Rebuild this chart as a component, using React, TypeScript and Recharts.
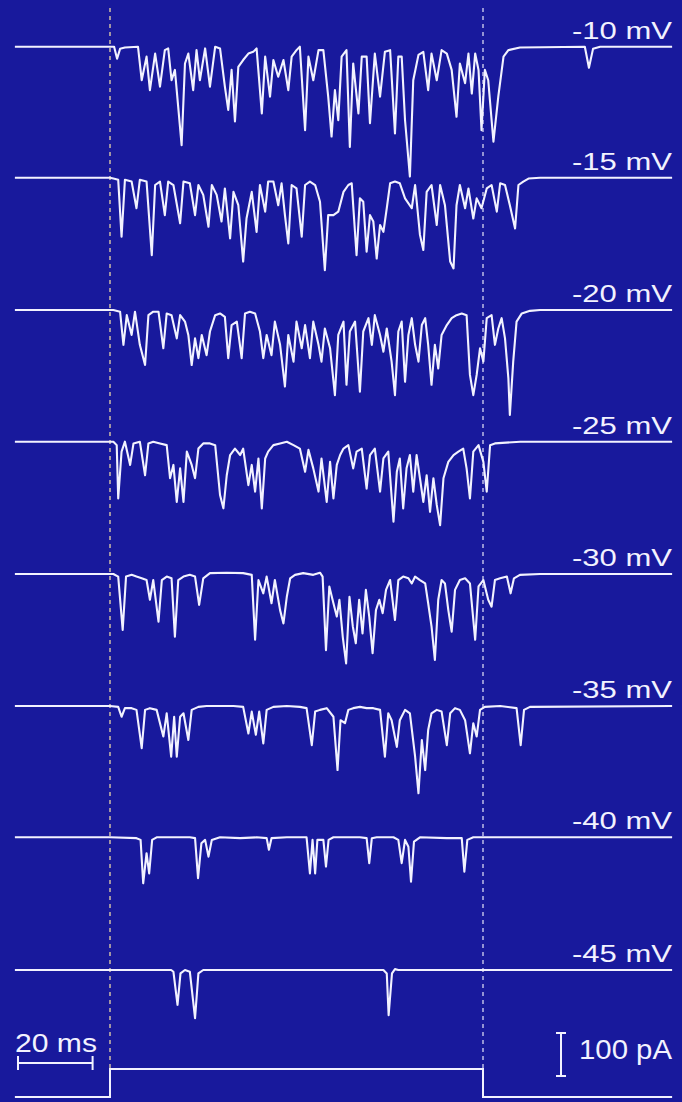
import { ComposedChart, Line, XAxis, YAxis, ReferenceLine } from 'recharts';

// Single-channel currents, one sweep per test potential.
// Each point is [time (ms from step onset), current (pA, inward negative)].
const trace10: [number, number][] = [
    [-25.5, 0], [0, 0], [1.1, 0], [1.9, -28], [2.7, -5], [4.0, -2], [7.5, 0],
    [8.5, -78], [9.8, -23], [10.7, -101], [12.1, -16], [13.4, -93], [14.7, -8], [15.6, -4], [16.5, -78],
    [17.4, -54], [19.2, -229], [20.1, -39], [21.0, -16], [22.3, -101], [23.2, -8], [24.1, -78], [25.5, -4],
    [26.8, -93], [28.2, 0], [29.5, -4], [30.8, -93], [31.7, -147], [32.6, -54], [33.5, -174], [34.4, -47],
    [35.7, -31], [37.1, -16], [38.4, -12], [39.3, -4], [40.7, -155], [41.6, -23], [42.9, -116], [43.8, -31],
    [45.1, -70], [46.5, -31], [47.8, -101], [48.7, -23], [50.0, -8], [50.9, 0], [52.3, -194], [53.2, -23],
    [54.5, -78], [55.9, -8], [57.2, -8], [58.5, -116], [59.4, -209], [60.3, -101], [61.2, -171], [62.1, -23],
    [63.4, -8], [64.3, -233], [65.2, -39], [66.6, -155], [67.5, -23], [68.8, -23], [69.7, -178], [71.0, -16],
    [72.4, -116], [73.7, -12], [75.1, -8], [76.4, -202], [77.3, -23], [78.2, -23], [79.1, -171], [80.4, -302],
    [81.3, -78], [82.7, -19], [84.0, -12], [85.3, -101], [86.2, -16], [87.6, -78], [88.9, -8], [90.3, -16],
    [91.6, -54], [92.9, -163], [93.8, -39], [95.2, -85], [96.1, -16], [97.0, -109], [97.9, -16], [98.8, -54],
    [99.6, -194], [100.5, -54], [101.4, -78], [102.8, -221], [104.1, -116], [105.5, -23], [106.8, -8],
    [109.9, -2], [127.3, 0], [128.4, -49], [129.5, -5], [131.4, 0], [150.7, 0],
];

const trace15: [number, number][] = [
    [-25.5, 0], [0, 0], [0.9, -2], [2.2, -5], [3.1, -137], [4.0, -5], [5.8, -9], [7.1, -71], [8.0, -5],
    [9.8, -9], [11.2, -180], [12.1, -17], [13.4, -9], [14.7, -87], [15.6, -9], [17.0, -17], [18.8, -106],
    [19.7, -9], [21.4, -13], [22.8, -87], [23.7, -17], [25.0, -40], [26.4, -114], [27.3, -17], [28.6, -40],
    [29.9, -102], [30.8, -25], [32.2, -141], [33.1, -33], [34.4, -64], [35.7, -195], [36.6, -95], [38.0, -33],
    [39.3, -126], [40.2, -17], [41.6, -79], [42.4, -9], [43.8, -9], [45.1, -64], [46.0, -13], [46.9, -87],
    [47.8, -153], [48.7, -17], [50.0, -25], [51.4, -137], [52.3, -17], [53.6, -9], [55.0, -17], [56.3, -56],
    [57.6, -215], [58.5, -87], [59.9, -87], [61.2, -79], [62.6, -33], [63.9, -17], [64.8, -13], [66.1, -180],
    [67.0, -48], [67.9, -56], [68.8, -172], [69.7, -87], [70.6, -102], [71.5, -188], [72.4, -110], [73.3, -126],
    [74.2, -71], [75.1, -13], [76.4, -9], [77.7, -13], [79.1, -48], [80.9, -71], [81.8, -17], [83.1, -133],
    [84.0, -168], [84.9, -33], [86.2, -17], [87.6, -110], [88.5, -17], [89.8, -64], [91.2, -195], [92.1, -211],
    [92.9, -64], [93.8, -17], [95.2, -71], [96.1, -25], [97.4, -95], [98.3, -48], [99.6, -71], [101.0, -25],
    [102.3, -17], [103.7, -79], [104.6, -13], [105.9, -17], [107.2, -64], [108.6, -118], [109.5, -17],
    [110.8, -9], [112.2, -2], [115.3, 0], [150.7, 0],
];

const trace20: [number, number][] = [
    [-25.5, 0], [0, 0], [0.9, 0], [2.7, -4], [3.6, -81], [4.5, -12], [5.8, -58], [6.7, -4], [8.0, -81],
    [9.4, -128], [10.3, -12], [11.6, -4], [13.0, -4], [14.3, -89], [15.2, -8], [16.5, -12], [17.9, -66],
    [18.8, -12], [20.1, -27], [21.0, -58], [21.9, -128], [22.8, -66], [23.7, -112], [24.6, -58], [25.9, -105],
    [26.8, -50], [28.2, -12], [29.5, -8], [30.8, -16], [31.7, -112], [32.6, -35], [34.0, -27], [35.3, -112],
    [36.2, -8], [37.5, -4], [38.9, -8], [40.2, -50], [41.1, -112], [42.0, -58], [43.3, -105], [44.2, -27],
    [45.6, -81], [46.9, -178], [47.8, -58], [49.2, -120], [50.0, -27], [51.4, -89], [52.3, -35], [53.6, -112],
    [54.5, -27], [55.9, -81], [56.7, -120], [57.6, -43], [59.0, -89], [60.3, -198], [61.2, -58], [62.6, -27],
    [63.4, -174], [64.3, -50], [65.7, -27], [67.0, -190], [67.9, -50], [69.3, -19], [70.2, -81], [71.0, -12],
    [72.4, -58], [73.3, -97], [74.2, -43], [75.5, -120], [76.4, -198], [77.3, -50], [78.2, -27], [79.1, -167],
    [80.0, -58], [80.9, -19], [81.8, -81], [82.7, -120], [83.6, -35], [84.5, -19], [85.3, -81], [86.2, -174],
    [87.1, -81], [88.0, -136], [88.9, -58], [90.3, -35], [91.6, -19], [92.9, -12], [94.3, -8], [95.6, -12],
    [96.5, -151], [97.4, -198], [98.3, -151], [99.2, -89], [100.1, -120], [101.0, -19], [102.3, -12],
    [103.2, -81], [104.1, -43], [105.0, -19], [105.9, -66], [106.8, -159], [107.2, -244], [108.1, -120],
    [109.0, -27], [110.4, -8], [112.6, -2], [115.3, 0], [150.7, 0],
];

const trace25: [number, number][] = [
    [-25.5, 0], [0, 0], [0.9, 0], [1.8, -8], [2.2, -132], [3.1, -23], [4.0, 0], [5.4, -54], [6.3, -4],
    [8.0, 0], [9.4, -78], [10.3, -4], [11.6, 0], [13.4, -4], [15.2, -8], [16.1, -85], [17.0, -54], [17.9, -140],
    [18.8, -62], [19.7, -140], [20.6, -23], [21.9, -54], [22.8, -85], [23.7, -16], [25.0, -4], [26.8, -4],
    [28.2, -8], [29.5, -124], [30.4, -155], [31.3, -78], [32.2, -31], [33.5, -16], [34.9, -31], [35.7, -16],
    [37.1, -101], [38.0, -54], [38.9, -116], [39.8, -39], [40.7, -155], [41.6, -39], [42.4, -23], [43.8, -8],
    [45.6, -4], [47.4, 0], [49.2, -8], [50.9, -16], [52.3, -70], [53.2, -19], [54.5, -62], [55.9, -116],
    [56.7, -39], [58.1, -140], [59.0, -47], [59.9, -132], [60.8, -54], [61.7, -31], [62.6, -16], [63.9, -8],
    [65.2, -62], [66.1, -23], [67.5, -16], [68.8, -109], [69.7, -31], [71.0, -16], [72.4, -116], [73.3, -39],
    [74.6, -23], [76.0, -186], [76.9, -70], [77.7, -39], [78.6, -155], [79.5, -62], [80.4, -31], [81.3, -116],
    [82.2, -31], [83.1, -85], [84.0, -140], [84.9, -78], [85.8, -163], [86.7, -85], [87.6, -147], [88.5, -194],
    [89.4, -85], [90.7, -47], [92.1, -31], [93.4, -23], [94.7, -16], [95.6, -62], [96.5, -132], [97.4, -23],
    [98.8, -8], [100.1, -47], [101.0, -116], [101.9, -8], [103.2, -4], [110.0, 0], [150.7, 0],
];

const trace30: [number, number][] = [
    [-25.5, 0], [0, 0], [0.9, 0], [2.2, -6], [3.4, -130], [4.3, -6], [5.8, -2], [7.1, -6], [8.5, -10],
    [9.8, -14], [10.7, -60], [11.6, -14], [13.0, -111], [13.9, -14], [15.2, -6], [16.5, -10], [17.4, -146],
    [18.3, -14], [19.7, -6], [21.4, -2], [22.8, -6], [23.9, -72], [25.0, -10], [26.8, 2], [31.3, 3], [35.7, 2],
    [38.0, -2], [38.9, -153], [39.8, -14], [41.1, -45], [42.0, -6], [43.3, -68], [44.2, -14], [45.6, -84],
    [46.5, -115], [47.4, -53], [48.3, -10], [49.6, -2], [51.8, 2], [54.5, -2], [56.3, 3], [57.0, -6],
    [57.9, -177], [58.8, -29], [59.9, -68], [60.8, -99], [61.5, -60], [62.4, -146], [63.3, -208], [64.2, -53],
    [65.1, -122], [65.9, -161], [66.8, -60], [67.7, -138], [68.6, -37], [69.5, -99], [70.4, -184], [71.3, -84],
    [72.2, -60], [73.1, -91], [74.0, -37], [75.1, -14], [76.4, -107], [77.3, -14], [78.6, -6], [80.0, -10],
    [80.9, -22], [81.8, -6], [83.1, -14], [84.5, -22], [85.3, -68], [86.2, -122], [87.1, -200], [88.0, -60],
    [88.9, -14], [89.8, -22], [90.7, -84], [91.6, -134], [92.5, -37], [93.8, -14], [95.2, -10], [96.5, -22],
    [97.9, -153], [98.8, -29], [100.1, -14], [101.4, -60], [102.3, -76], [103.2, -14], [104.6, -10],
    [106.4, -6], [107.4, -45], [108.3, -10], [109.9, -2], [115.3, 0], [150.7, 0],
];

const trace35: [number, number][] = [
    [-25.5, 0], [0, 0], [2.2, -2], [3.1, -25], [4.0, -5], [5.8, -5], [7.1, -9], [8.5, -98], [9.4, -9],
    [10.7, -5], [12.5, -9], [14.3, -71], [15.2, -17], [16.4, -118], [17.2, -25], [17.9, -118], [18.8, -25],
    [19.7, -17], [21.0, -79], [21.9, -9], [23.7, -2], [25.9, 0], [33.1, 0], [35.7, -2], [37.1, -64],
    [38.0, -13], [39.1, -67], [40.0, -13], [41.1, -87], [42.0, -9], [43.8, -2], [47.4, 0], [50.9, -2],
    [52.7, -5], [54.1, -91], [55.0, -13], [56.3, -9], [58.1, -5], [59.9, -25], [61.0, -149], [61.8, -33],
    [63.0, -40], [63.9, -9], [65.2, -5], [67.0, -2], [68.8, -5], [70.6, -5], [72.4, -9], [73.7, -118],
    [74.6, -17], [75.5, -33], [76.9, -95], [77.7, -33], [79.1, -9], [80.4, -17], [81.8, -118], [82.7, -203],
    [83.6, -79], [84.5, -149], [85.3, -56], [86.2, -17], [87.6, -9], [88.9, -13], [90.3, -91], [91.2, -17],
    [92.5, -5], [93.8, -9], [95.2, -33], [96.5, -110], [97.4, -40], [98.3, -71], [99.2, -9], [100.5, -2],
    [104.6, 0], [109.0, -5], [110.1, -91], [111.0, -9], [112.6, -2], [150.7, 0],
];

const trace40: [number, number][] = [
    [-25.5, 0], [0, 0], [7.1, -2], [8.2, -6], [8.9, -107], [9.8, -37], [10.5, -84], [11.3, -6], [12.5, 0],
    [21.4, 0], [22.8, -2], [23.6, -95], [24.5, -14], [25.5, -6], [26.4, -45], [27.3, -6], [29.5, 0],
    [34.9, -2], [39.3, 0], [42.0, -2], [42.6, -29], [43.3, -2], [47.4, 0], [52.7, 0], [53.6, -84],
    [54.3, -6], [55.0, -84], [55.6, -6], [57.2, -6], [57.9, -68], [58.6, -6], [59.9, 0], [67.0, 0],
    [68.8, -2], [69.5, -60], [70.2, -2], [71.5, 0], [76.0, 0], [77.3, -6], [78.2, -60], [79.1, -6],
    [80.0, -22], [80.7, -103], [81.5, -10], [83.1, 0], [90.3, -2], [94.3, -2], [95.0, -80], [95.8, -6],
    [97.4, 0], [150.7, 0],
];

const trace45: [number, number][] = [
    [-25.5, 0], [0, 0], [16.4, 0], [17.0, -4], [18.1, -81], [18.9, -8], [20.1, 0], [21.4, -4], [22.8, -112],
    [23.7, -8], [25.0, 0], [73.3, 0], [74.2, -8], [74.7, -105], [75.6, -8], [76.4, 2], [77.3, 0], [150.7, 0],
];

const VOLTAGES = ['-10 mV', '-15 mV', '-20 mV', '-25 mV', '-30 mV', '-35 mV', '-40 mV', '-45 mV'];
const TRACES = [trace10, trace15, trace20, trace25, trace30, trace35, trace40, trace45];

// voltage protocol: 0 = holding, 1 = test pulse
const STEP: [number, number][] = [[-25.5, 0], [0, 1], [100, 0], [150.7, 0]];
const PULSE_MS = 100;
const SCALE_MS = 20;
const SCALE_PA = 100;

// layout
const W = 682;
const H = 1102;
const PX_PER_MS = 3.73;
const ONSET_X = 110;
const PX_PER_PA = 0.43;
const BASELINE_Y = [46.7, 177.7, 310, 441.7, 574, 706, 837.3, 970];
const STEP_LOW_Y = 1097;
const STEP_HIGH_Y = 1069;
const BG = '#18199c';
const INK = '#f2f2ff';
const FONT = "'Liberation Sans', Arial, Helvetica, sans-serif";

const xDomain = [-ONSET_X / PX_PER_MS, (W - ONSET_X) / PX_PER_MS];
const paDomain = (y0: number) => [-(H - y0) / PX_PER_PA, y0 / PX_PER_PA];
const stepUnit = STEP_LOW_Y - STEP_HIGH_Y;
const msAt = (x: number) => (x - ONSET_X) / PX_PER_MS;

const traceData = TRACES.map((tr) => tr.map(([t, i]) => ({ t, i })));
const stepData = STEP.map(([t, v]) => ({ t, v }));

const msBar = { t0: msAt(18), y: 1063 };
const paBar = { t: msAt(561), y0: 1076 };

function App() {
    const serif = 5 / PX_PER_MS;
    return (
        <div style={{ position: 'absolute', left: 0, top: 0, width: W, height: H, background: BG }}>
            <ComposedChart width={W} height={H} margin={{ top: 0, right: 0, bottom: 0, left: 0 }}>
                <XAxis type="number" dataKey="t" domain={xDomain} allowDataOverflow hide />
                {BASELINE_Y.map((y0, k) => (
                    <YAxis key={k} yAxisId={`tr${k}`} type="number" domain={paDomain(y0)} allowDataOverflow hide />
                ))}
                <YAxis yAxisId="step" type="number" domain={[-(H - STEP_LOW_Y) / stepUnit, STEP_LOW_Y / stepUnit]} allowDataOverflow hide />
                <YAxis yAxisId="page" type="number" domain={[0, H]} reversed allowDataOverflow hide />
                <YAxis yAxisId="scale" type="number" domain={paDomain(paBar.y0)} allowDataOverflow hide />

                <ReferenceLine yAxisId="page" segment={[{ x: 0, y: 8 }, { x: 0, y: STEP_HIGH_Y }]}
                    stroke="#dccaa6" strokeWidth={1.4} strokeDasharray="4 4" />
                <ReferenceLine yAxisId="page" segment={[{ x: PULSE_MS, y: 8 }, { x: PULSE_MS, y: STEP_HIGH_Y }]}
                    stroke="#c8c8ec" strokeWidth={1.4} strokeDasharray="4 4" />

                {traceData.map((d, k) => (
                    <Line key={k} yAxisId={`tr${k}`} data={d} dataKey="i" type="linear" stroke={INK}
                        strokeWidth={2.1} strokeLinejoin="round" dot={false} activeDot={false} isAnimationActive={false} />
                ))}
                <Line yAxisId="step" data={stepData} dataKey="v" type="stepAfter" stroke={INK}
                    strokeWidth={2} dot={false} activeDot={false} isAnimationActive={false} />

                {/* 20 ms scale bar */}
                <ReferenceLine yAxisId="page" segment={[{ x: msBar.t0, y: msBar.y }, { x: msBar.t0 + SCALE_MS, y: msBar.y }]} stroke={INK} strokeWidth={2} />
                <ReferenceLine yAxisId="page" segment={[{ x: msBar.t0, y: msBar.y - 7 }, { x: msBar.t0, y: msBar.y + 7 }]} stroke={INK} strokeWidth={2} />
                <ReferenceLine yAxisId="page" segment={[{ x: msBar.t0 + SCALE_MS, y: msBar.y - 7 }, { x: msBar.t0 + SCALE_MS, y: msBar.y + 7 }]} stroke={INK} strokeWidth={2} />
                {/* 100 pA scale bar */}
                <ReferenceLine yAxisId="scale" segment={[{ x: paBar.t, y: 0 }, { x: paBar.t, y: SCALE_PA }]} stroke={INK} strokeWidth={2} />
                <ReferenceLine yAxisId="scale" segment={[{ x: paBar.t - serif, y: 0 }, { x: paBar.t + serif, y: 0 }]} stroke={INK} strokeWidth={2} />
                <ReferenceLine yAxisId="scale" segment={[{ x: paBar.t - serif, y: SCALE_PA }, { x: paBar.t + serif, y: SCALE_PA }]} stroke={INK} strokeWidth={2} />
            </ComposedChart>
            <svg width={W} height={H} style={{ position: 'absolute', left: 0, top: 0, pointerEvents: 'none' }}>
                {VOLTAGES.map((v, k) => (
                    <text key={v} x={672} y={BASELINE_Y[k] - 8} textAnchor="end" fill={INK}
                        fontFamily={FONT} fontSize={23} textLength={100} lengthAdjust="spacingAndGlyphs">{v}</text>
                ))}
                <text x={15} y={1052} fill={INK} fontFamily={FONT} fontSize={26} textLength={82} lengthAdjust="spacingAndGlyphs">20 ms</text>
                <text x={579} y={1059} fill={INK} fontFamily={FONT} fontSize={27} textLength={93} lengthAdjust="spacingAndGlyphs">100 pA</text>
            </svg>
        </div>
    );
}

export default App;
